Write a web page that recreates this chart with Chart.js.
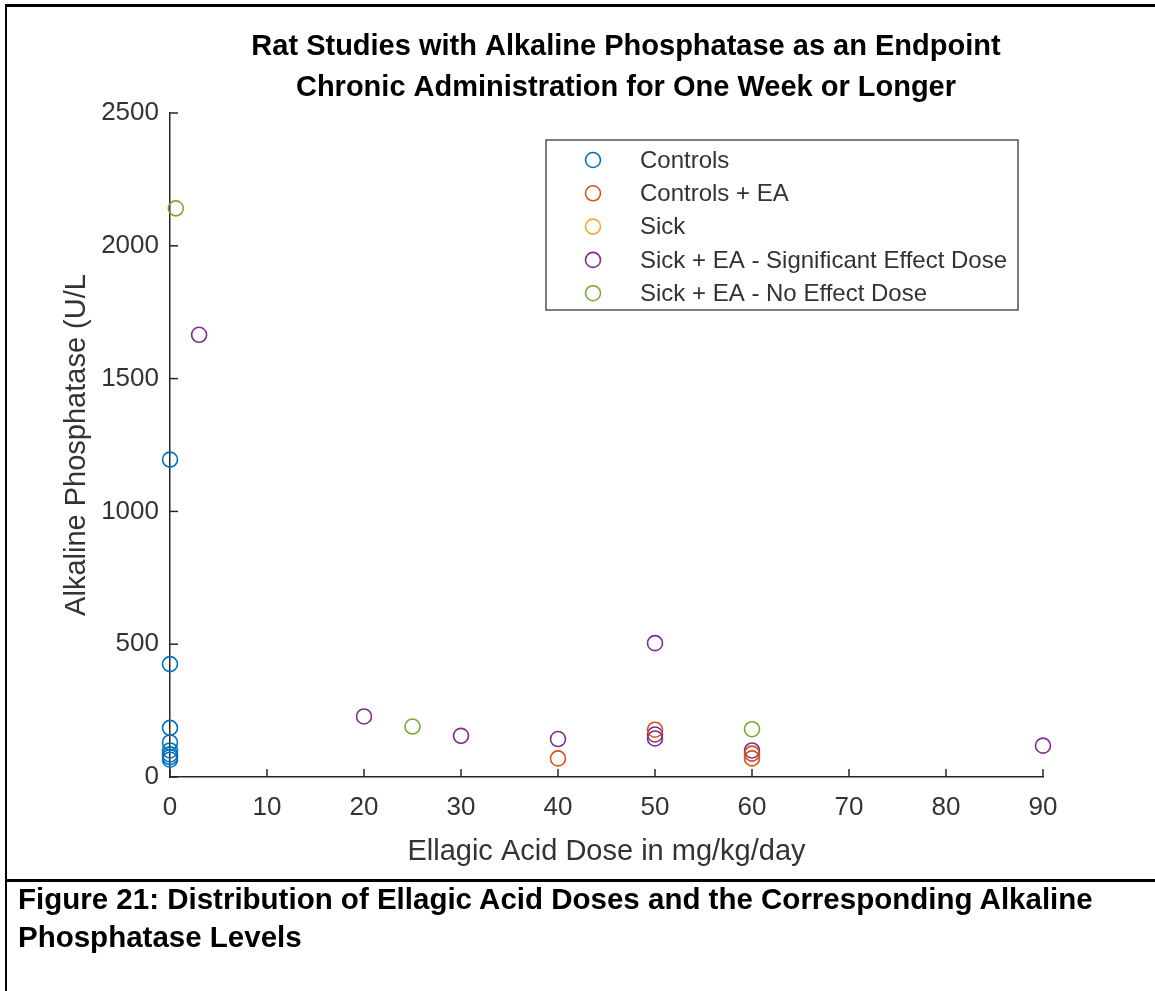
<!DOCTYPE html>
<html>
<head>
<meta charset="utf-8">
<title>Alkaline Phosphatase vs Ellagic Acid Dose</title>
<script src="https://cdn.jsdelivr.net/npm/chart.js@4.4.1/dist/chart.umd.min.js"></script>
<style>
  html, body { margin: 0; padding: 0; background: #fff; }
  body { width: 1155px; height: 991px; position: relative; overflow: hidden; font-family: "Liberation Sans", Arial, sans-serif; }
  #plot { position: absolute; left: 0; top: 0; }
  .rule { position: absolute; background: #000; }
  .rule.top { left: 5px; top: 4px; width: 1150px; height: 3px; }
  .rule.left { left: 5px; top: 4px; width: 2px; height: 987px; }
  .rule.mid { left: 5px; top: 879px; width: 1150px; height: 3px; }
  .caption { position: absolute; left: 18px; top: 880px; font-weight: bold; font-size: 29.5px; line-height: 38px; color: #000; white-space: nowrap; }
</style>
</head>
<body>
<canvas id="plot" width="1155" height="879"></canvas>
<div class="rule top"></div>
<div class="rule left"></div>
<div class="rule mid"></div>
<div class="caption">Figure 21: Distribution of Ellagic Acid Doses and the Corresponding Alkaline<br>Phosphatase Levels</div>
<script>
// dose (mg/kg/day) and ALP (U/L) per group
const controlsDose = [0, 0, 0, 0, 0, 0, 0, 0];
const controlsAlp = [1195, 425, 185, 130, 100, 85, 75, 65];
const controlsEaDose = [40, 50, 60, 60];
const controlsEaAlp = [70, 178, 88, 70];
const sickDose = [];
const sickAlp = [];
const sigEffectDose = [3, 20, 30, 40, 50, 50, 50, 60, 90];
const sigEffectAlp = [1665, 228, 155, 143, 504, 160, 145, 100, 118];
const noEffectDose = [0.6, 25, 60];
const noEffectAlp = [2141, 190, 180];

const seriesNames = ['Controls', 'Controls + EA', 'Sick', 'Sick + EA - Significant Effect Dose', 'Sick + EA - No Effect Dose'];
const seriesColors = ['#0072BD', '#D95319', '#EDB120', '#7E2F8E', '#77AC30'];
const seriesDose = [controlsDose, controlsEaDose, sickDose, sigEffectDose, noEffectDose];
const seriesAlp = [controlsAlp, controlsEaAlp, sickAlp, sigEffectAlp, noEffectAlp];

const titleLines = ['Rat Studies with Alkaline Phosphatase as an Endpoint', 'Chronic Administration for One Week or Longer'];
const xMax = 90, xStep = 10;
const yMax = 2500, yStep = 500;

const FONT = '"Liberation Sans", Arial, Helvetica, sans-serif';
const axisColor = '#262626';
const textColor = '#333333';

const datasets = seriesNames.map((name, i) => ({
  label: name,
  data: seriesDose[i].map((d, j) => ({ x: d, y: seriesAlp[i][j] })),
  borderColor: seriesColors[i],
  backgroundColor: 'rgba(0,0,0,0)',
  pointRadius: 7.5,
  pointBorderWidth: 1.6,
  pointStyle: 'circle',
  showLine: false,
  clip: false
}));

// matlab-style ticks pointing into the axes
const innerTicks = {
  id: 'innerTicks',
  afterDatasetsDraw(chart) {
    const { ctx, chartArea, scales: { x, y } } = chart;
    ctx.save();
    ctx.strokeStyle = axisColor;
    ctx.lineWidth = 1.5;
    x.ticks.forEach(t => {
      const px = x.getPixelForValue(t.value);
      ctx.beginPath();
      ctx.moveTo(px, chartArea.bottom);
      ctx.lineTo(px, chartArea.bottom - 8);
      ctx.stroke();
    });
    y.ticks.forEach(t => {
      const py = y.getPixelForValue(t.value);
      ctx.beginPath();
      ctx.moveTo(chartArea.left, py);
      ctx.lineTo(chartArea.left + 8, py);
      ctx.stroke();
    });
    ctx.restore();
  }
};

// two-line bold title
const figTitle = {
  id: 'figTitle',
  afterDraw(chart) {
    const ctx = chart.ctx;
    ctx.save();
    ctx.fillStyle = '#000';
    ctx.font = 'bold 29px ' + FONT;
    ctx.textAlign = 'center';
    ctx.textBaseline = 'middle';
    ctx.fillText(titleLines[0], 626, 47);
    ctx.fillText(titleLines[1], 626, 88);
    ctx.restore();
  }
};

// boxed legend in the upper right of the axes
const boxLegend = {
  id: 'boxLegend',
  afterDraw(chart) {
    const ctx = chart.ctx;
    const bx = 546, by = 140, bw = 472, bh = 170;
    ctx.save();
    ctx.fillStyle = '#fff';
    ctx.fillRect(bx, by, bw, bh);
    ctx.strokeStyle = axisColor;
    ctx.lineWidth = 1.2;
    ctx.strokeRect(bx, by, bw, bh);
    ctx.font = '24px ' + FONT;
    ctx.textBaseline = 'middle';
    chart.data.datasets.forEach((ds, i) => {
      const cy = by + 20 + i * 33.3;
      ctx.strokeStyle = ds.borderColor;
      ctx.lineWidth = 1.6;
      ctx.beginPath();
      ctx.arc(593, cy, 7.5, 0, Math.PI * 2);
      ctx.stroke();
      ctx.fillStyle = textColor;
      ctx.fillText(ds.label, 640, cy + 1);
    });
    ctx.restore();
  }
};

new Chart(document.getElementById('plot'), {
  type: 'scatter',
  data: { datasets },
  plugins: [innerTicks, figTitle, boxLegend],
  options: {
    responsive: false,
    animation: false,
    devicePixelRatio: 1,
    layout: { padding: { left: 0, right: 112, top: 113, bottom: 2 } },
    plugins: {
      legend: { display: false },
      title: { display: false },
      tooltip: { enabled: false }
    },
    scales: {
      x: {
        type: 'linear',
        min: 0,
        max: xMax,
        afterFit(scale) { scale.height = 100; },
        ticks: { stepSize: xStep, color: textColor, font: { family: FONT, size: 26 }, padding: 7 },
        grid: { display: false },
        border: { display: true, color: axisColor, width: 1.5 },
        title: {
          display: true,
          text: 'Ellagic Acid Dose in mg/kg/day',
          color: textColor,
          font: { family: FONT, size: 29 },
          padding: { top: 0, bottom: 8 }
        }
      },
      y: {
        type: 'linear',
        min: 0,
        max: yMax,
        afterFit(scale) { scale.width = 170; },
        ticks: {
          stepSize: yStep,
          color: textColor,
          font: { family: FONT, size: 26 },
          padding: 3,
          callback: v => String(v)
        },
        grid: { display: false },
        border: { display: true, color: axisColor, width: 1.5 },
        title: {
          display: true,
          text: 'Alkaline Phosphatase (U/L',
          color: textColor,
          font: { family: FONT, size: 29 },
          padding: { top: 60, bottom: 0 }
        }
      }
    }
  }
});
</script>
</body>
</html>
